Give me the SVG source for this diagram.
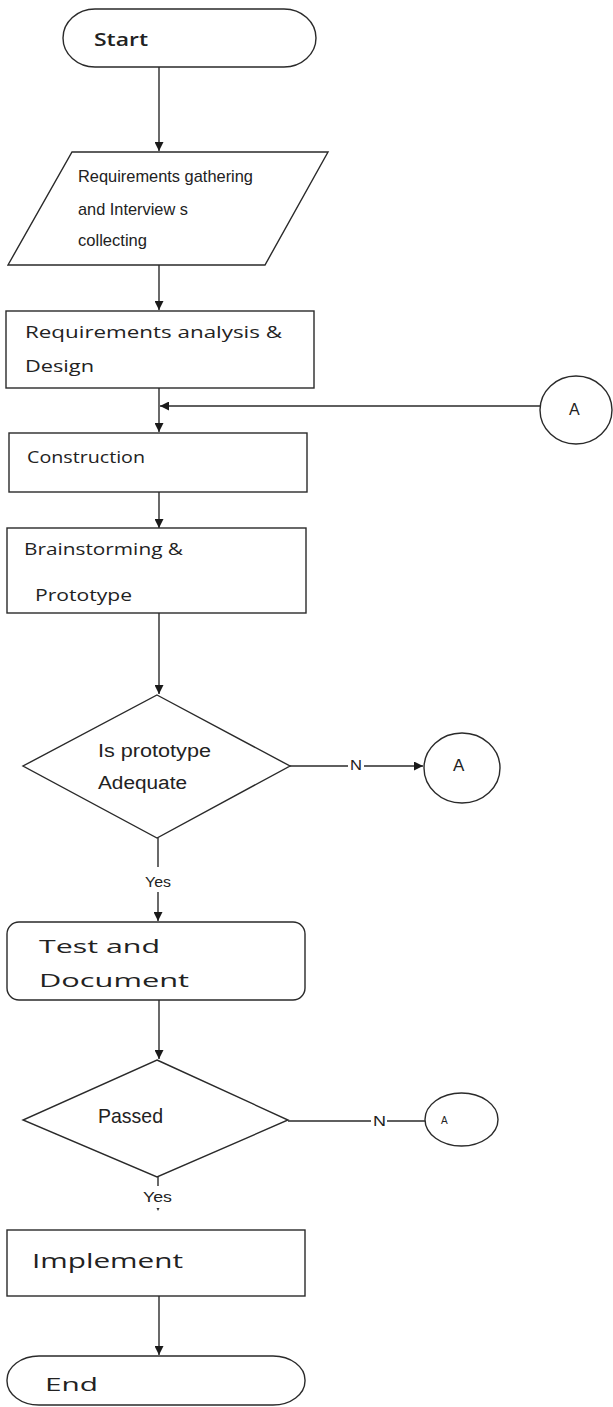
<svg xmlns="http://www.w3.org/2000/svg" width="613" height="1407" viewBox="0 0 613 1407">
<defs>
<style>
.shape{fill:#fff;stroke:#2a2a2a;stroke-width:1.4}
.line{fill:none;stroke:#2a2a2a;stroke-width:1.4}
.t{font-family:"Open Sans","Liberation Sans",sans-serif;fill:#222}
.c{font-family:"Liberation Sans","Open Sans",sans-serif;fill:#222}
</style>
<marker id="ah" viewBox="0 0 10 10" refX="10" refY="5" markerWidth="9" markerHeight="9" markerUnits="userSpaceOnUse" orient="auto">
<path d="M0,0 L10,5 L0,10 z" fill="#1a1a1a"/>
</marker>
</defs>
<rect width="613" height="1407" fill="#fff"/>

<g id="connectors">
<line class="line" x1="159" y1="67" x2="159" y2="151" marker-end="url(#ah)"/>
<line class="line" x1="159" y1="265" x2="159" y2="310" marker-end="url(#ah)"/>
<line class="line" x1="159" y1="388" x2="159" y2="432" marker-end="url(#ah)"/>
<line class="line" x1="540" y1="406" x2="160" y2="406" marker-end="url(#ah)"/>
<line class="line" x1="159" y1="492" x2="159" y2="528" marker-end="url(#ah)"/>
<line class="line" x1="159" y1="613" x2="159" y2="694" marker-end="url(#ah)"/>
<line class="line" x1="290" y1="766" x2="348" y2="766"/>
<line class="line" x1="364" y1="766" x2="423" y2="766" marker-end="url(#ah)"/>
<text class="c" x="350" y="770" font-size="15" textLength="12" lengthAdjust="spacingAndGlyphs">N</text>
<line class="line" x1="158" y1="838" x2="158" y2="867"/>
<text class="c" x="145" y="887" font-size="14" textLength="26" lengthAdjust="spacingAndGlyphs">Yes</text>
<line class="line" x1="158" y1="892" x2="158" y2="921" marker-end="url(#ah)"/>
<line class="line" x1="159" y1="1000" x2="159" y2="1059" marker-end="url(#ah)"/>
<line class="line" x1="288" y1="1121" x2="371" y2="1121"/>
<line class="line" x1="387" y1="1121" x2="425" y2="1121"/>
<text class="c" x="373" y="1126" font-size="15" textLength="13" lengthAdjust="spacingAndGlyphs">N</text>
<line class="line" x1="158" y1="1177" x2="158" y2="1186"/>
<text class="c" x="143" y="1202" font-size="14" textLength="29" lengthAdjust="spacingAndGlyphs">Yes</text>
<path d="M156.5,1208 L159.5,1208 L158,1211 z" fill="#333"/>
<line class="line" x1="159" y1="1281" x2="159" y2="1355" marker-end="url(#ah)"/>
</g>

<g id="start">
<rect class="shape" x="63" y="9" width="253" height="58" rx="32" ry="29"/>
<text class="t" x="94" y="46" font-size="18" font-weight="600" textLength="54" lengthAdjust="spacingAndGlyphs">Start</text>
</g>

<g id="gather">
<polygon class="shape" points="72,152 328,152 265,265 8,265"/>
<text class="c" x="78" y="182" font-size="17" textLength="175" lengthAdjust="spacingAndGlyphs">Requirements gathering</text>
<text class="c" x="78" y="215" font-size="17" textLength="110" lengthAdjust="spacingAndGlyphs">and Interview s</text>
<text class="c" x="78" y="246" font-size="17" textLength="69" lengthAdjust="spacingAndGlyphs">collecting</text>
</g>

<g id="analysis">
<rect class="shape" x="6" y="311" width="308" height="77"/>
<text class="t" x="25" y="338" font-size="17" textLength="257" lengthAdjust="spacingAndGlyphs">Requirements analysis &amp;</text>
<text class="t" x="25" y="372" font-size="17" textLength="69" lengthAdjust="spacingAndGlyphs">Design</text>
</g>

<g id="connectorA1">
<ellipse class="shape" cx="576" cy="410" rx="36" ry="34"/>
<text class="c" x="569" y="415" font-size="16">A</text>
</g>

<g id="construction">
<rect class="shape" x="9" y="433" width="298" height="59"/>
<text class="t" x="27" y="463" font-size="17" textLength="118" lengthAdjust="spacingAndGlyphs">Construction</text>
</g>

<g id="brainstorm">
<rect class="shape" x="7" y="528" width="299" height="85"/>
<text class="t" x="24" y="555" font-size="17" textLength="159" lengthAdjust="spacingAndGlyphs">Brainstorming &amp;</text>
<text class="t" x="35" y="601" font-size="17" textLength="97" lengthAdjust="spacingAndGlyphs">Prototype</text>
</g>

<g id="adequate">
<polygon class="shape" points="157,695 290,766 157,838 23,766"/>
<text class="c" x="98" y="757" font-size="18" textLength="113" lengthAdjust="spacingAndGlyphs">Is prototype</text>
<text class="c" x="98" y="789" font-size="18" textLength="89" lengthAdjust="spacingAndGlyphs">Adequate</text>
</g>

<g id="connectorA2">
<ellipse class="shape" cx="462" cy="768" rx="38" ry="35"/>
<text class="c" x="453" y="771" font-size="17">A</text>
</g>

<g id="test">
<rect class="shape" x="7" y="922" width="298" height="78" rx="12" ry="12"/>
<text class="t" x="39" y="953" font-size="19" textLength="121" lengthAdjust="spacingAndGlyphs">Test and</text>
<text class="t" x="39" y="987" font-size="19" textLength="150" lengthAdjust="spacingAndGlyphs">Document</text>
</g>

<g id="passed">
<polygon class="shape" points="157,1060 288,1120 157,1177 23,1120"/>
<text class="c" x="98" y="1123" font-size="21" textLength="65" lengthAdjust="spacingAndGlyphs">Passed</text>
</g>

<g id="connectorA3">
<ellipse class="shape" cx="461.5" cy="1119.5" rx="36.5" ry="26.5"/>
<text class="c" x="441" y="1124" font-size="10">A</text>
</g>

<g id="implement">
<rect class="shape" x="7" y="1230" width="298" height="66"/>
<text class="t" x="32" y="1268" font-size="20" textLength="151" lengthAdjust="spacingAndGlyphs">Implement</text>
</g>

<g id="end">
<rect class="shape" x="7" y="1356" width="298" height="49" rx="32" ry="24"/>
<text class="t" x="45" y="1391" font-size="19" textLength="53" lengthAdjust="spacingAndGlyphs">End</text>
</g>
</svg>
